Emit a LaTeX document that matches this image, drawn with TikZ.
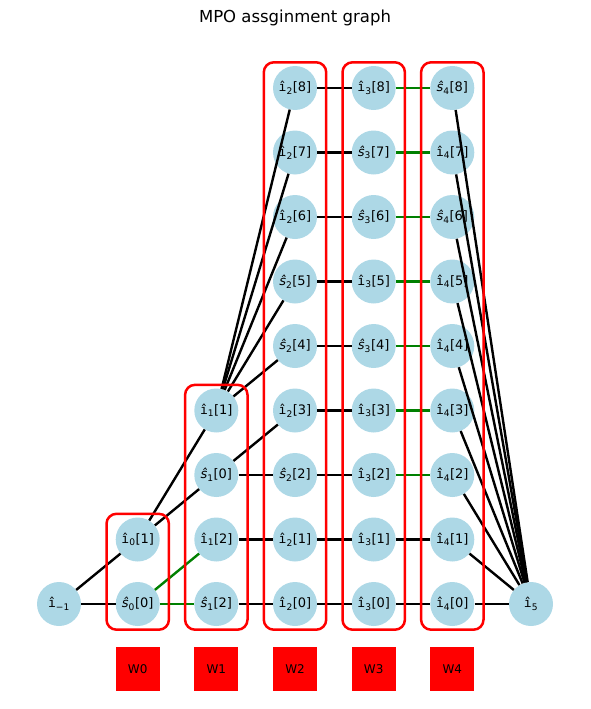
\documentclass[tikz,border=0pt]{standalone}
\usepackage{fontspec}
\setmainfont{DejaVu Sans}
\newfontfamily\hatfont{DejaVu Sans Mono}
\usetikzlibrary{fit}
\definecolor{nodeblue}{RGB}{173,216,230}
\newcommand{\iend}[1]{{\hatfont î}\textsubscript{#1}}
\newcommand{\ih}[2]{{\hatfont î}\textsubscript{#1}[#2]}
\newcommand{\sh}[2]{{\itshape ŝ}\textsubscript{#1}[#2]}

\begin{document}
\begin{tikzpicture}[x=1pt,y=-1pt,
		site/.style={circle,fill=nodeblue,minimum size=44pt,inner sep=0pt,font=\fontsize{13}{15}\selectfont},
		bond/.style={line width=2.4pt,black},
		gbond/.style={line width=2.4pt,green!50!black},
		group/.style={draw=red,line width=2.5pt,rounded corners=10pt,inner xsep=9pt,inner ysep=3.5pt},
		wbox/.style={fill=red,minimum size=44pt,inner sep=0pt,font=\fontsize{12}{14}\selectfont}]
		\useasboundingbox (0,0) rectangle (590,709);
		\node[font=\fontsize{16.5}{18}\selectfont] (title) at (295,18) {MPO assginment graph};
		\node[site] (l0) at (59,604) {\iend{−1}};
		\node[site] (l5) at (531,604) {\iend{5}};
		\foreach \r/\t in {0/\sh{0}{0},1/\ih{0}{1}}
			\node[site] (n0-\r) at ({137.7},{604-64.5*\r}) {\t};
		\foreach \r/\t in {0/\sh{1}{2},1/\ih{1}{2},2/\sh{1}{0},3/\ih{1}{1}}
			\node[site] (n1-\r) at ({216.3},{604-64.5*\r}) {\t};
		\foreach \r/\t in {0/\ih{2}{0},1/\ih{2}{1},2/\sh{2}{2},3/\ih{2}{3},4/\sh{2}{4},5/\sh{2}{5},6/\ih{2}{6},7/\ih{2}{7},8/\ih{2}{8}}
			\node[site] (n2-\r) at ({295},{604-64.5*\r}) {\t};
		\foreach \r/\t in {0/\ih{3}{0},1/\ih{3}{1},2/\ih{3}{2},3/\ih{3}{3},4/\sh{3}{4},5/\ih{3}{5},6/\sh{3}{6},7/\sh{3}{7},8/\ih{3}{8}}
			\node[site] (n3-\r) at ({373.7},{604-64.5*\r}) {\t};
		\foreach \r/\t in {0/\ih{4}{0},1/\ih{4}{1},2/\ih{4}{2},3/\ih{4}{3},4/\ih{4}{4},5/\ih{4}{5},6/\sh{4}{6},7/\ih{4}{7},8/\sh{4}{8}}
			\node[site] (n4-\r) at ({452.3},{604-64.5*\r}) {\t};
		% bonds
		\draw[bond] (l0) -- (n0-0);
		\draw[bond] (l0) -- (n0-1);
		\draw[gbond] (n0-0) -- (n1-0);
		\draw[gbond] (n0-0) -- (n1-1);
		\draw[bond] (n0-1) -- (n1-2);
		\draw[bond] (n0-1) -- (n1-3);
		\draw[bond] (n1-0) -- (n2-0);
		\draw[bond] (n1-1) -- (n2-1);
		\draw[bond] (n1-2) -- (n2-2);
		\draw[bond] (n1-2) -- (n2-3);
		\foreach \r in {4,...,8}
			\draw[bond] (n1-3) -- (n2-\r);
		\foreach \r in {0,...,8}
			\draw[bond] (n2-\r) -- (n3-\r);
		\draw[bond] (n3-0) -- (n4-0);
		\draw[bond] (n3-1) -- (n4-1);
		\foreach \r in {2,...,8}
			\draw[gbond] (n3-\r) -- (n4-\r);
		\foreach \r in {0,...,8}
			\draw[bond] (n4-\r) -- (l5);
		% groups and their W blocks
		\node[group,fit=(n0-0)(n0-1)] (g0) {};
		\node[group,fit=(n1-0)(n1-3)] (g1) {};
		\node[group,fit=(n2-0)(n2-8)] (g2) {};
		\node[group,fit=(n3-0)(n3-8)] (g3) {};
		\node[group,fit=(n4-0)(n4-8)] (g4) {};
		\foreach \c/\x in {0/137.7,1/216.3,2/295,3/373.7,4/452.3}
			\node[wbox] (w\c) at (\x,669) {W\c};
	\end{tikzpicture}
\end{document}
